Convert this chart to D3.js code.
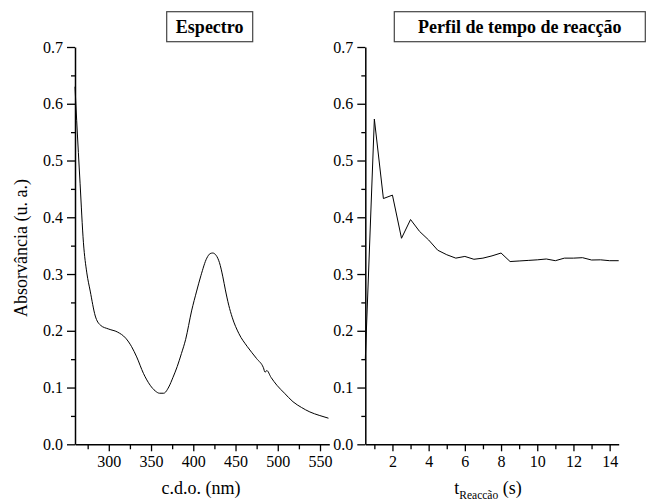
<!DOCTYPE html>
<html><head><meta charset="utf-8">
<script src="https://cdn.jsdelivr.net/npm/d3@7"></script>
<style>
body{margin:0;background:#fff;}
</style></head>
<body><svg id="c" width="647" height="502"></svg>
<script>
// Spectrum: wavelength (nm) vs absorbance
const specNm = [260,262,266,270,274,278,284,290,300,310,320,327,333,341,349,355,360,365,371,376,381,386,391,398,404,409,416,420,423,427,431,435,438,442,446,454,464,475,483,485,487,492,499,508,518,528,538,549,560];
const specAbs = [0.63,0.57,0.46,0.355,0.302,0.27,0.226,0.21,0.203,0.198,0.187,0.172,0.154,0.125,0.104,0.094,0.090,0.090,0.101,0.118,0.137,0.160,0.185,0.235,0.270,0.297,0.328,0.336,0.337,0.333,0.320,0.295,0.272,0.245,0.224,0.195,0.172,0.151,0.135,0.127,0.130,0.118,0.104,0.090,0.075,0.065,0.057,0.051,0.046];
// Reaction time profile
const timeS = [0.5,1,1.5,2,2.5,3,3.5,4,4.5,5,5.5,6,6.5,7,7.5,8,8.5,9,9.5,10,10.5,11,11.5,12,12.5,13,13.5,14,14.5];
const timeAbs = [0.15,0.573,0.433,0.439,0.363,0.396,0.375,0.36,0.342,0.334,0.328,0.331,0.326,0.328,0.332,0.337,0.322,0.323,0.324,0.325,0.3265,0.3235,0.328,0.328,0.3288,0.3247,0.325,0.3235,0.3235];
const yTicks = [0.0,0.1,0.2,0.3,0.4,0.5,0.6,0.7];
const yMinor = [0.05,0.15,0.25,0.35,0.45,0.55,0.65];
const specTicks = [300,350,400,450,500,550];
const specMinor = [275,325,375,425,475,525];
const timeTicks = [2,4,6,8,10,12,14];
const timeMinor = [1,3,5,7,9,11,13];
const titles = ["Espectro","Perfil de tempo de reacção"];
const yLabel = "Absorvância (u. a.)";

const FONT = "'Liberation Serif', 'Times New Roman', serif";
const svg = d3.select("#c");
const plotTop = 47, plotBottom = 444.3;
const y = d3.scaleLinear().domain([0,0.7]).range([plotBottom, plotTop]);
const xL = d3.scaleLinear().domain([260,561]).range([75,329.3]);
const xR = d3.scaleLinear().domain([0.5,14.5]).range([365.3,618.7]);

function axes(x, ticks, minor){
  const gy = svg.append("g").attr("transform",`translate(${x.range()[0]},0)`);
  gy.call(d3.axisLeft(y).tickValues(yTicks).tickFormat(d3.format(".1f")).tickSize(8).tickSizeOuter(0).tickPadding(4));
  gy.append("g").attr("class","minor").call(d3.axisLeft(y).tickValues(yMinor).tickFormat("").tickSize(4).tickSizeOuter(0));
  const gx = svg.append("g").attr("transform",`translate(0,${plotBottom})`);
  gx.call(d3.axisBottom(x).tickValues(ticks).tickFormat(d3.format("d")).tickSize(7).tickSizeOuter(0).tickPadding(4));
  gx.append("g").attr("class","minor").call(d3.axisBottom(x).tickValues(minor).tickFormat("").tickSize(5).tickSizeOuter(0));
}
axes(xL, specTicks, specMinor);
axes(xR, timeTicks, timeMinor);
svg.selectAll(".minor .domain").remove();
svg.selectAll(".domain").attr("stroke","#000").attr("stroke-width",1.5);
svg.selectAll(".tick line").attr("stroke","#000").attr("stroke-width",1.3);
svg.selectAll(".tick text").style("font-size","16px").attr("fill","#000");

const lineL = d3.line().x((d,i)=>xL(specNm[i])).y(d=>y(d)).curve(d3.curveMonotoneX);
svg.append("path").attr("d", lineL(specAbs)).attr("fill","none").attr("stroke","#000").attr("stroke-width",1);
const lineR = d3.line().x((d,i)=>xR(timeS[i])).y(d=>y(d));
svg.append("path").attr("d", lineR(timeAbs)).attr("fill","none").attr("stroke","#000").attr("stroke-width",1);

// titles
const boxes = [[166.7,86],[394.3,251]];
boxes.forEach((b,i)=>{
  svg.append("rect").attr("x",b[0]).attr("y",11.7).attr("width",b[1]).attr("height",30)
    .attr("fill","#fff").attr("stroke","#444").attr("stroke-width",1.2);
  svg.append("text").attr("x",b[0]+b[1]/2).attr("y",33).attr("text-anchor","middle")
    .style("font-size","18px").style("font-weight","bold").text(titles[i]);
});

// axis labels
svg.append("text").attr("transform","translate(26.5,248) rotate(-90)").attr("text-anchor","middle")
  .style("font-size","18px").text(yLabel);
svg.append("text").attr("x",201).attr("y",494).attr("text-anchor","middle").style("font-size","18px").text("c.d.o. (nm)");
const t = svg.append("text").attr("x",488).attr("y",494).attr("text-anchor","middle").style("font-size","18px");
t.append("tspan").text("t");
t.append("tspan").style("font-size","11.5px").attr("dy",5).text("Reaccão");
t.append("tspan").attr("dy",-5).text(" (s)");

svg.selectAll("text").style("font-family", FONT);
</script></body></html>
